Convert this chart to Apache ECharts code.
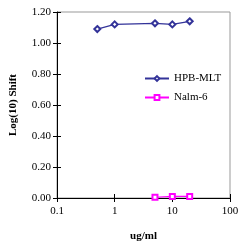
<!DOCTYPE html>
<html><head><meta charset="utf-8">
<script src="https://cdn.jsdelivr.net/npm/echarts@6/dist/echarts.min.js"></script>
<style>html,body{margin:0;padding:0;background:#fff}#c{width:250px;height:250px}</style>
</head><body><div id="c"></div>
<script>
const hpbX = [0.5, 1, 5, 10, 20];
const hpbY = [1.09, 1.12, 1.127, 1.12, 1.14];
const nalmX = [5, 10, 20];
const nalmY = [0.005, 0.01, 0.01];
const yTicks = [0, 0.2, 0.4, 0.6, 0.8, 1.0, 1.2];
const xTicks = [0.1, 1, 10, 100];

const font = '"Liberation Serif", "Times New Roman", serif';
const chart = echarts.init(document.getElementById('c'), null, {renderer: 'canvas'});
const grid = {left: 55, top: 12, right: 20, bottom: 52, show: true, borderColor: '#999', borderWidth: 1};
chart.setOption({
  animation: false,
  textStyle: {fontFamily: font},
  grid: grid,
  legend: {
    left: 139, top: 68, orient: 'vertical', itemGap: 8, itemWidth: 24, itemHeight: 6,
    textStyle: {fontFamily: font, fontSize: 11, color: '#000'},
    data: ['HPB-MLT', 'Nalm-6']
  },
  xAxis: [{
    type: 'log', logBase: 10, min: xTicks[0], max: xTicks[xTicks.length - 1],
    name: 'ug/ml', nameLocation: 'middle', nameGap: 33,
    nameTextStyle: {fontFamily: font, fontSize: 11, fontWeight: 'bold', color: '#000'},
    axisLine: {lineStyle: {color: '#000', width: 1}},
    axisTick: {length: 4, lineStyle: {color: '#000'}},
    axisLabel: {fontFamily: font, fontSize: 11, color: '#000', margin: 8,
      formatter: v => String(+v.toPrecision(2))},
    splitLine: {show: false}, minorTick: {show: false}
  }, {
    type: 'log', logBase: 10, min: xTicks[0], max: xTicks[xTicks.length - 1], position: 'bottom',
    axisLine: {show: false}, axisLabel: {show: false},
    axisTick: {inside: true, length: 4, lineStyle: {color: '#000'}}, splitLine: {show: false}
  }],
  yAxis: [{
    type: 'value', min: yTicks[0], max: yTicks[yTicks.length - 1], interval: 0.2,
    name: 'Log(10) Shift', nameLocation: 'middle', nameGap: 38,
    nameTextStyle: {fontFamily: font, fontSize: 11, fontWeight: 'bold', color: '#000'},
    axisLine: {show: true, lineStyle: {color: '#000', width: 1}},
    axisTick: {show: true, length: 4, lineStyle: {color: '#000'}},
    axisLabel: {fontFamily: font, fontSize: 11, color: '#000', margin: 6,
      formatter: v => v.toFixed(2)},
    splitLine: {show: false}
  }, {
    type: 'value', min: yTicks[0], max: yTicks[yTicks.length - 1], interval: 0.2, position: 'left',
    axisLine: {show: false}, axisLabel: {show: false},
    axisTick: {show: true, inside: true, length: 4, lineStyle: {color: '#000'}}, splitLine: {show: false}
  }],
  series: [{
    name: 'HPB-MLT', type: 'line',
    data: hpbX.map((x, i) => [x, hpbY[i]]),
    symbol: 'emptyDiamond', symbolSize: 6,
    lineStyle: {color: '#333399', width: 1.2},
    itemStyle: {color: '#333399', borderColor: '#333399', borderWidth: 1}
  }, {
    name: 'Nalm-6', type: 'line',
    data: nalmX.map((x, i) => [x, nalmY[i]]),
    symbol: 'emptyRect', symbolSize: 5,
    lineStyle: {color: '#ff00ff', width: 1.2},
    itemStyle: {color: '#ff00ff', borderColor: '#ff00ff', borderWidth: 1}
  }]
});
</script></body></html>
